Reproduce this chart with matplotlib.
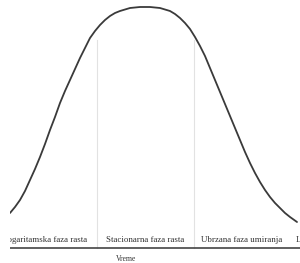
import matplotlib
matplotlib.use("Agg")
import matplotlib.pyplot as plt

# growth curve (time, population)
time = [10, 15, 20, 25, 30, 35, 40, 45, 50, 55, 60, 65, 70, 75, 80, 85, 90, 95,
        100, 105, 110, 115, 120, 130, 140, 150, 160, 170, 175, 180, 185, 190,
        195, 200, 205, 210, 215, 220, 225, 230, 235, 240, 245, 250, 255, 260,
        265, 270, 275, 280, 285, 290, 297]
population = [35, 41, 48, 57, 68, 79, 91, 104, 118, 131, 145, 157, 168, 179,
              190, 200, 210, 217, 223, 228, 232, 235, 237, 240, 241, 241, 240,
              237, 234, 230, 225, 219, 211, 202, 192, 180, 168, 156, 144, 132,
              120, 108, 96, 85, 75, 66, 58, 51, 45, 40, 35, 31, 26]

phase_bounds = [97, 194]
phase_top = 208
phase_labels = ["Logaritamska faza rasta", "Stacionarna faza rasta",
                "Ubrzana faza umiranja", "Logaritamska faza umiranja"]
label_x = [87, 145, 242, 296]
label_ha = ["right", "center", "center", "left"]
x_label = "Vreme"

fig = plt.figure(figsize=(3.0, 2.63), dpi=100)
# chart area is clipped at the left, like in the original image
ax = fig.add_axes([10 / 300, 0, 290 / 300, 1])
ax.set_xlim(10, 300)
ax.set_ylim(-15, 248)
ax.axis("off")

for b in phase_bounds:
    ax.plot([b, b], [0, phase_top], color="#e2e2e2", lw=0.8, zorder=1)

ax.plot(time, population, color="#3a3a3a", lw=1.3, solid_capstyle="round", zorder=3)
ax.axhline(0, color="#444444", lw=1.2, zorder=2)

for txt, x, ha in zip(phase_labels, label_x, label_ha):
    ax.text(x, 8, txt, ha=ha, va="center", fontsize=6.4,
            family="Liberation Serif", color="#333333", clip_on=True)

ax.text(126, -11, x_label, ha="center", va="center", fontsize=5.5,
        family="Liberation Serif", color="#333333")

fig.savefig("out.png", dpi=100)
